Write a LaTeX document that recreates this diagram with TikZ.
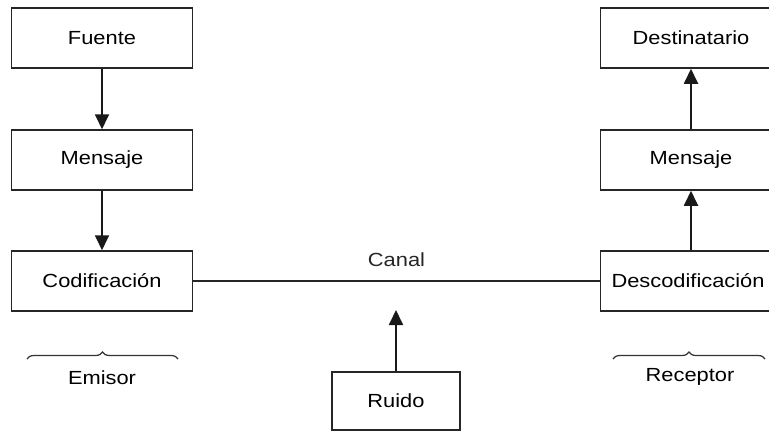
\documentclass[tikz,border=0pt]{standalone}
\usepackage{fontspec}
\setmainfont{Liberation Sans}[FakeStretch=1.15]
\usetikzlibrary{arrows.meta,decorations.pathreplacing}
\begin{document}
\begin{tikzpicture}[x=1pt,y=-1pt,
  box/.style={draw=black!85,line width=1.5pt,minimum width=181pt,minimum height=60pt,inner sep=0pt,font=\fontsize{19}{21}\selectfont},
  arr/.style={line width=1.8pt,black!90,-{Triangle[width=14pt,length=15pt]}},
  lbl/.style={font=\fontsize{19}{21}\selectfont,inner sep=0pt},
  brc/.style={line width=1.2pt,black!80,decorate,decoration={brace,amplitude=7pt}}]
\useasboundingbox (0,0) rectangle (769,431);
\node[box] (fuente) at (102,38) {Fuente};
\node[box] (mens1) at (102,160) {Mensaje};
\node[box] (cod) at (102,281) {Codificación};
\node[box] (dest) at (691,38) {Destinatario};
\node[box] (mens2) at (691,160) {Mensaje};
\node[box,text width=181pt,align=left] (desc) at (691,281) {\hspace{11pt}Descodificación};
\node[box,minimum width=128pt,minimum height=58pt] (ruido) at (396,401) {Ruido};
\draw[arr] (fuente) -- (mens1);
\draw[arr] (mens1) -- (cod);
\draw[arr] (mens2) -- (dest);
\draw[arr] (desc.north) -- (mens2.south);
\draw[line width=1.5pt,black!85] (cod) -- node[lbl,above=14pt] (canal) {Canal} (desc);
\coordinate (noise) at (396,310);
\draw[arr] (ruido) -- (noise);
\coordinate (e1) at (27,359);
\coordinate (e2) at (178,359);
\draw[brc] (e1) -- (e2);
\node[lbl] (emisor) at (102,378) {Emisor};
\coordinate (r1) at (613,359);
\coordinate (r2) at (765,359);
\draw[brc] (r1) -- (r2);
\node[lbl] (receptor) at (690,377) {Receptor};
\end{tikzpicture}
\end{document}
